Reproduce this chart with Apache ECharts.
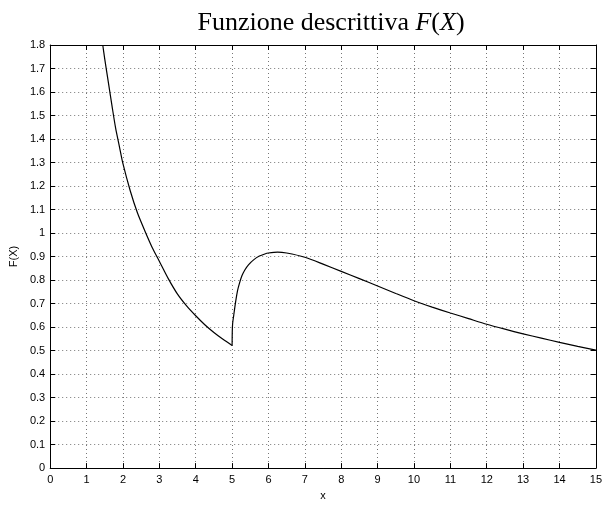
<!DOCTYPE html>
<html>
  <head>
    <meta charset="UTF-8">
    <title>Funzione descrittiva</title>
    <script src="https://cdn.jsdelivr.net/npm/echarts@6/dist/echarts.min.js"></script>
  </head>
  <body style="margin:0">
    <div id="box" style="width:605px;height:506px"></div>
    <script>
        // ramo sinistro (x < 5)
        var leftX = [1.445, 1.5, 1.6, 1.7, 1.8, 1.9, 2.0, 2.2, 2.4, 2.6, 2.8, 3.0, 3.25, 3.5, 3.75, 4.0, 4.25, 4.5, 4.75, 5.0];
        var leftY = [1.80, 1.74, 1.64, 1.54, 1.445, 1.37, 1.295, 1.18, 1.085, 1.01, 0.94, 0.88, 0.805, 0.74, 0.69, 0.648, 0.61, 0.577, 0.548, 0.522];
        // ramo destro (x >= 5)
        var rightX = [5.0, 5.005, 5.015, 5.045, 5.1, 5.15, 5.2, 5.27, 5.35, 5.45, 5.6, 5.75, 5.9, 6.0, 6.25, 6.5, 7.0, 7.5, 8.0, 8.5, 9.0, 9.5, 10, 10.5, 11, 11.5, 12, 12.5, 13, 13.5, 14, 14.5, 15];
        var rightY = [0.522, 0.58, 0.615, 0.65, 0.71, 0.755, 0.785, 0.818, 0.843, 0.865, 0.887, 0.902, 0.911, 0.915, 0.919, 0.915, 0.897, 0.868, 0.837, 0.806, 0.775, 0.743, 0.712, 0.685, 0.66, 0.636, 0.612, 0.591, 0.571, 0.553, 0.535, 0.518, 0.502];

        function pairs(xs, ys) {
            return xs.map(function (x, i) { return [x, ys[i]]; });
        }

        var font = 'Liberation Sans, Arial, sans-serif';
        var serif = 'Liberation Serif, serif';
        var gridLine = {show: true, lineStyle: {color: '#777', type: [1, 3], width: 1}};
        var axisLine = {show: true, onZero: false, lineStyle: {color: '#000', width: 1}};
        var tick = {show: true, inside: true, length: 5, lineStyle: {color: '#000'}};

        var myChart = echarts.init(document.getElementById('box'));
        myChart.setOption({
            animation: false,
            title: {
                text: '{n|Funzione descrittiva }{i|F}{n|(}{i|X}{n|)}',
                left: 326,
                textAlign: 'center',
                top: 5,
                textStyle: {
                    rich: {
                        n: {fontFamily: serif, fontSize: 26, fontWeight: 'normal', color: '#000'},
                        i: {fontFamily: serif, fontSize: 26, fontWeight: 'normal', fontStyle: 'italic', color: '#000'}
                    }
                }
            },
            grid: {left: 50, right: 5, top: 45, bottom: 28},
            xAxis: [{
                type: 'value', min: 0, max: 15, interval: 1,
                name: 'x', nameLocation: 'middle', nameGap: 17,
                nameTextStyle: {fontFamily: font, fontSize: 11, color: '#000'},
                axisLine: axisLine, axisTick: tick, splitLine: gridLine,
                axisLabel: {fontFamily: font, fontSize: 11, color: '#000', margin: 6}
            }, {
                type: 'value', position: 'top', min: 0, max: 15, interval: 1,
                axisLine: axisLine, axisTick: tick, splitLine: {show: false},
                axisLabel: {show: false}
            }],
            yAxis: [{
                type: 'value', min: 0, max: 1.8, interval: 0.1,
                name: 'F(X)', nameLocation: 'middle', nameGap: 22,
                nameTextStyle: {fontFamily: font, fontSize: 11, color: '#000'},
                axisLine: axisLine, axisTick: tick, splitLine: gridLine,
                axisLabel: {fontFamily: font, fontSize: 11, color: '#000', margin: 5,
                    formatter: function (v) { return String(Math.round(v * 10) / 10); }}
            }, {
                type: 'value', position: 'right', min: 0, max: 1.8, interval: 0.1,
                axisLine: axisLine, axisTick: tick, splitLine: {show: false},
                axisLabel: {show: false}
            }],
            series: [{
                type: 'line', showSymbol: false, smooth: 0.25,
                lineStyle: {color: '#000', width: 1.2},
                data: pairs(leftX, leftY)
            }, {
                type: 'line', showSymbol: false, smooth: 0.25,
                lineStyle: {color: '#000', width: 1.2},
                data: pairs(rightX, rightY)
            }]
        });
    </script>
  </body>
</html>
